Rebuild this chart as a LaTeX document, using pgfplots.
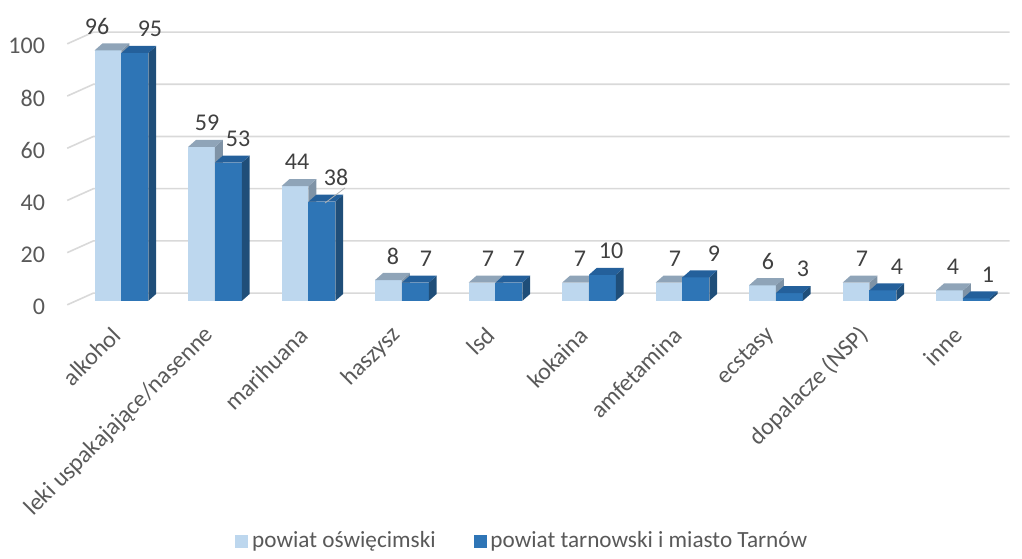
\documentclass[border=0pt]{standalone}
\usepackage{fontspec}
\setmainfont{Carlito}
\usepackage{pgfplots}
\pgfplotsset{compat=1.18}

\definecolor{lfront}{HTML}{BDD7EE}
\definecolor{ltop}{HTML}{8FA4B8}
\definecolor{lside}{HTML}{7F93A6}
\definecolor{dfront}{HTML}{2E75B6}
\definecolor{dtop}{HTML}{24609B}
\definecolor{dside}{HTML}{1F4E79}
\definecolor{gridc}{HTML}{D9D9D9}
\definecolor{txt}{HTML}{595959}
\definecolor{lbl}{HTML}{404040}

% bar width, depth in x and y (data units)
\newcommand{\bw}{0.287}
\newcommand{\dx}{0.085}
\newcommand{\dy}{2.7}
% \prism{left x}{value}{front}{top}{side}
\newcommand{\prism}[5]{%
  \pgfmathsetmacro\xa{#1}\pgfmathsetmacro\xb{#1+\bw}%
  \pgfmathsetmacro\xc{#1+\dx}\pgfmathsetmacro\xd{#1+\bw+\dx}%
  \pgfmathsetmacro\yt{#2+\dy}%
  \addplot[fill=#3,draw=none,forget plot] coordinates {(\xa,0) (\xb,0) (\xb,#2) (\xa,#2)} -- cycle;
  \addplot[fill=#5,draw=none,forget plot] coordinates {(\xb,0) (\xd,\dy) (\xd,\yt) (\xb,#2)} -- cycle;
  \addplot[fill=#4,draw=none,forget plot] coordinates {(\xa,#2) (\xb,#2) (\xd,\yt) (\xc,\yt)} -- cycle;
}
\newcommand{\pair}[3]{%
  \pgfmathsetmacro\xl{#1-\bw}%
  \prism{\xl}{#2}{lfront}{ltop}{lside}%
  \prism{#1}{#3}{dfront}{dtop}{dside}%
}

\begin{document}
\begin{tikzpicture}
\begin{axis}[
  x=46.75pt, y=1.305pt,
  xmin=-0.7, xmax=9.5, ymin=0, ymax=105,
  clip=false, axis line style={draw=none}, tick style={draw=none},
  font=\fontsize{12}{14}\selectfont,
  /pgf/number format/assume math mode=true,
  ytick={0,20,...,100},
  yticklabel style={text=txt, xshift=-2pt, yshift=-3pt},
  xtick={0,...,9},
  xticklabels={alkohol, leki uspakajające/nasenne, marihuana, haszysz, lsd, kokaina, amfetamina, ecstasy, dopalacze (NSP), inne},
  xticklabel style={text=txt, rotate=45, anchor=east, xshift=-9pt, yshift=-9pt},
  legend columns=2,
  legend style={at={(0.49,-0.876)}, anchor=center, draw=none, text=txt,
    font=\fontsize{11.6}{14}\selectfont,
    /tikz/every even column/.append style={column sep=17pt}},
  legend cell align=left,
]
\path (axis cs:-1.299,115.3) rectangle (axis cs:9.632,-96.9);
\pgfplotsinvokeforeach{0,20,...,100}{
  \draw[gridc, line width=0.8pt] (axis cs:-0.58,#1-1.5) -- (axis cs:-0.30,#1+3) -- (axis cs:9.5,#1+3);
}
\pair{0}{96}{95}
\pair{1}{59}{53}
\pair{2}{44}{38}
\pair{3}{8}{7}
\pair{4}{7}{7}
\pair{5}{7}{10}
\pair{6}{7}{9}
\pair{7}{6}{3}
\pair{8}{7}{4}
\pair{9}{4}{1}
\draw[gray!60] (axis cs:2.177,37.5) -- (axis cs:2.391,43.3);
\addplot[draw=none, mark=none, forget plot, nodes near coords,
  nodes near coords style={text=lbl, anchor=center, yshift=12pt}]
  coordinates {(-0.261,96) (0.915,59) (1.878,44) (2.904,8) (3.920,7) (4.904,7) (5.920,7) (6.915,6) (7.920,7) (8.893,4)};
\addplot[draw=none, mark=none, forget plot, nodes near coords,
  nodes near coords style={text=lbl, anchor=center, yshift=12pt}]
  coordinates {(0.305,95) (1.247,53) (2.295,38) (3.257,7) (4.252,7) (5.236,10) (6.337,9) (7.289,3) (8.295,4) (9.268,1)};
\addlegendimage{legend image code/.code={\fill[lfront] (0pt,-3pt) rectangle (6pt,3pt);}}
\addlegendentry{powiat oświęcimski}
\addlegendimage{legend image code/.code={\fill[dfront] (0pt,-3pt) rectangle (6pt,3pt);}}
\addlegendentry{powiat tarnowski i miasto Tarnów}
\end{axis}
\end{tikzpicture}
\end{document}
